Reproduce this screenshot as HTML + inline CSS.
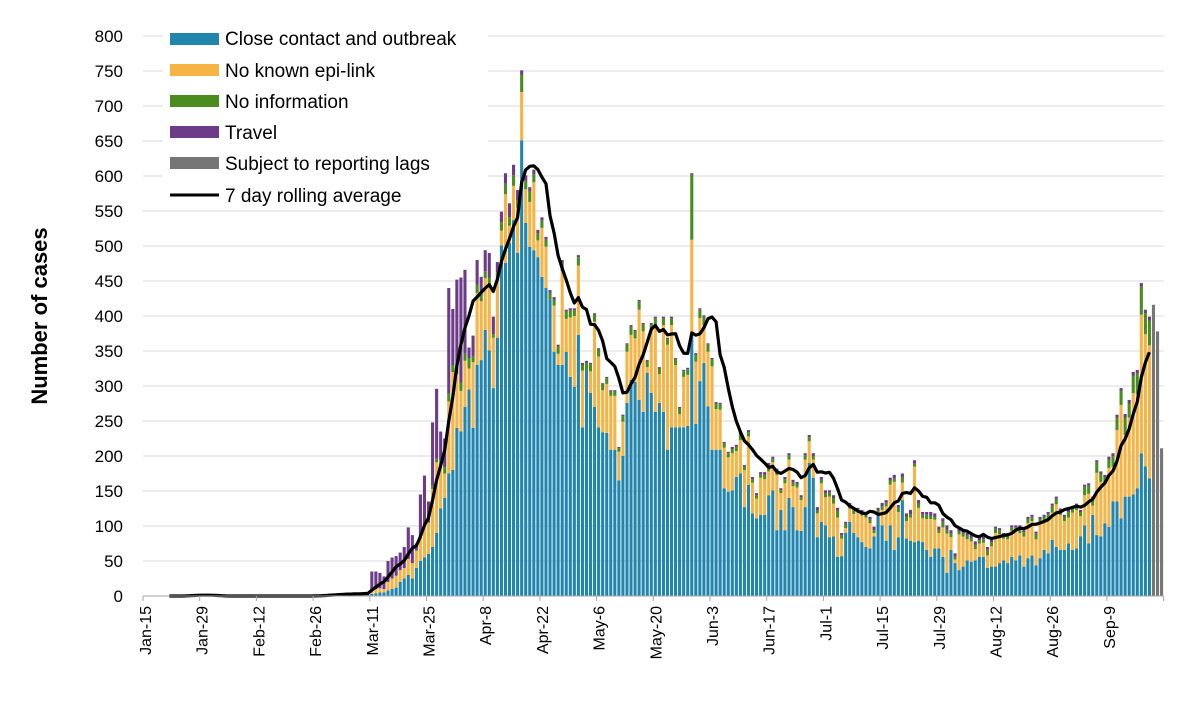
<!DOCTYPE html>
<html><head><meta charset="utf-8"><style>
html,body{margin:0;padding:0;background:#fff;}
svg{display:block;font-family:"Liberation Sans",sans-serif;}
</style></head><body>
<svg id="chart" width="1200" height="704" viewBox="0 0 1200 704" xmlns="http://www.w3.org/2000/svg">
<g id="grid"></g>
<g id="bars"></g>
<g id="line"></g>
<g id="axes"></g>
<text transform="translate(47,316) rotate(-90)" text-anchor="middle" font-size="22" font-weight="bold" fill="#000">Number of cases</text>
<g id="legend">
<rect x="163" y="26" width="325" height="184" fill="#fff"/>
<rect x="170" y="33" width="49" height="12" fill="#2185ae"/>
<text x="225" y="45" font-size="19">Close contact and outbreak</text>
<rect x="170" y="64" width="49" height="12" fill="#f6b445"/>
<text x="225" y="77" font-size="19">No known epi-link</text>
<rect x="170" y="95" width="49" height="12" fill="#4a8c1e"/>
<text x="225" y="108" font-size="19">No information</text>
<rect x="170" y="126" width="49" height="12" fill="#6d3c88"/>
<text x="225" y="139" font-size="19">Travel</text>
<rect x="170" y="157" width="49" height="12" fill="#767676"/>
<text x="225" y="170" font-size="19">Subject to reporting lags</text>
<line x1="170" y1="195" x2="219" y2="195" stroke="#000" stroke-width="3"/>
<text x="225" y="202" font-size="19">7 day rolling average</text>
</g>
</svg>
<script>
const tickValues = [0,50,100,150,200,250,300,350,400,450,500,550,600,650,700,750,800];
const dateLabels = ["Jan-15","Jan-29","Feb-12","Feb-26","Mar-11","Mar-25","Apr-8","Apr-22","May-6","May-20","Jun-3","Jun-17","Jul-1","Jul-15","Jul-29","Aug-12","Aug-26","Sep-9"];
const totalCases = [
0,0,0,0,0,0,0,0,0,0,1,2,2,2,1,0,0,0,0,0,0,0,0,0,0,0,0,0,0,0,0,0,0,0,0,0,0,0,0,0,0,0,1,1,2,2,3,2,3,3,4,3,4,3,4,5,
35,35,33,28,50,55,57,62,70,98,87,75,145,172,135,248,296,235,225,440,410,452,455,466,355,372,480,456,494,490,399,477,549,
604,561,616,580,751,601,584,609,523,541,513,433,427,359,480,409,411,411,487,333,334,333,404,354,304,313,294,294,213,259,361,387,380,423,390,337,390,399,327,399,369,399,340,270,323,326,604,347,411,401,361,340,277,276,220,206,
213,216,234,187,237,170,147,177,177,190,199,182,154,170,204,166,163,144,204,230,204,127,170,151,151,144,126,90,106,133,126,126,123,120,113,99,109,133,137,169,173,130,175,118,123,194,137,120,120,120,118,99,111,101,94,61,97,94,
90,87,78,85,85,70,80,99,97,90,90,101,101,101,94,113,116,92,113,116,120,132,142,125,116,123,128,132,123,159,161,142,194,178,173,199,204,259,297,260,280,320,323,447,409,399];
const closeContact = [
0,0,0,0,0,0,0,0,0,0,0,0,0,0,0,0,0,0,0,0,0,0,0,0,0,0,0,0,0,0,0,0,0,0,0,0,0,0,0,0,0,0,0,0,0,0,0,0,0,0,0,0,0,0,0,0,
3,4,5,5,8,10,12,20,25,30,25,40,50,55,60,70,90,125,140,175,180,240,235,270,295,240,330,337,380,351,297,369,501,
476,504,537,490,651,533,499,494,484,456,440,423,349,330,330,349,313,299,373,241,323,290,270,241,234,233,209,209,165,200,276,309,306,280,263,319,290,263,276,263,209,241,241,241,241,243,373,246,307,333,271,209,209,209,154,149,
151,170,175,127,159,118,111,116,116,144,151,94,123,94,140,127,94,93,127,190,169,84,106,101,84,85,56,57,90,106,90,84,77,70,68,85,116,101,79,101,66,84,137,82,79,77,79,77,66,56,68,68,56,33,66,47,37,42,
51,49,51,56,56,40,42,42,47,51,47,56,51,58,42,54,58,44,54,66,61,80,70,66,66,75,66,68,85,101,75,116,87,85,104,99,135,135,111,142,142,145,154,204,185,168];
const noInformation = [
0,0,0,0,0,0,0,0,0,0,0,0,0,0,0,0,0,0,0,0,0,0,0,0,0,0,0,0,0,0,0,0,0,0,0,0,0,0,0,0,0,0,0,0,0,0,0,0,0,0,0,0,0,0,0,0,
0,0,0,0,0,0,0,0,0,0,0,0,2,3,0,5,5,8,10,12,10,15,12,10,15,8,12,10,10,10,5,10,12,
15,12,15,10,25,12,15,12,10,10,10,10,8,10,12,10,10,8,12,8,10,10,10,10,8,8,6,6,5,8,10,12,10,12,10,8,10,10,8,10,8,10,8,8,8,8,93,10,12,12,10,10,8,8,6,6,
6,6,8,5,6,5,5,5,6,8,5,6,4,6,6,5,5,4,6,6,5,4,5,5,6,8,10,5,6,5,6,4,4,5,5,4,6,5,5,6,5,6,8,6,5,4,6,5,6,5,4,5,8,6,5,4,4,5,
5,5,6,5,5,8,6,6,6,5,6,5,6,8,6,6,6,8,6,6,8,10,8,6,6,8,6,6,6,12,12,10,15,12,10,12,15,18,20,25,20,25,30,40,30,35];
const travel = [
0,0,0,0,0,0,0,0,0,0,1,2,2,2,1,0,0,0,0,0,0,0,0,0,0,0,0,0,0,0,0,0,0,0,0,0,0,0,0,0,0,0,1,1,2,2,3,2,3,3,4,3,4,3,4,5,
28,25,22,18,30,30,28,25,30,45,40,10,60,70,30,90,100,40,40,150,80,120,150,120,15,30,35,25,30,35,25,15,15,
15,20,15,15,6,8,6,6,5,5,4,4,4,3,4,3,3,3,3,3,3,2,2,2,2,2,2,2,2,2,2,2,2,2,2,2,2,2,2,2,2,2,2,2,2,2,2,2,2,2,2,2,2,2,2,2,
3,3,3,2,3,3,3,3,4,4,3,3,3,3,3,4,3,3,3,3,4,5,4,5,3,4,4,3,3,3,3,3,4,3,4,5,4,5,4,4,5,4,5,5,6,5,5,4,4,5,5,4,5,6,5,5,5,4,
4,4,5,5,4,4,3,3,3,3,3,3,3,3,3,3,3,3,3,3,3,3,3,3,3,3,3,3,3,3,3,3,3,3,3,4,4,4,4,5,5,5,5,5,5,6];
const lagValues = [416,378,211];
const lagStartDay = 249;

const NS = "http://www.w3.org/2000/svg";
const X0 = 143, DW = 4.05, Y0 = 596, PPU = 0.7, NDAYS = 252, XEND = X0 + NDAYS * DW;
function xEdge(d){ return X0 + d * DW; }
function yv(v){ return Y0 - v * PPU; }
function mk(tag, attrs, parent){
  const el = document.createElementNS(NS, tag);
  for (const k in attrs) el.setAttribute(k, attrs[k]);
  parent.appendChild(el);
  return el;
}
const grid = document.getElementById('grid');
const axes = document.getElementById('axes');
const bars = document.getElementById('bars');
const lineG = document.getElementById('line');

tickValues.forEach(v => {
  if (v > 0) {
    const gl = mk('line', {x1: X0, x2: XEND, y1: yv(v), y2: yv(v), stroke: '#d9d9d9', 'stroke-width': 1}, grid);
    
    
  }
  const t = mk('text', {x: 123, y: yv(v) + 6, 'text-anchor': 'end', 'font-size': 17, fill: '#000'}, axes);
  t.textContent = v;
  
  
});

const base = mk('line', {x1: X0, x2: XEND, y1: Y0, y2: Y0, stroke: '#a6a6a6', 'stroke-width': 1}, axes);



dateLabels.forEach((lab, i) => {
  const d = i * 14;
  const tk = mk('line', {x1: xEdge(d), x2: xEdge(d), y1: Y0, y2: Y0 + 5, stroke: '#a6a6a6', 'stroke-width': 1}, axes);
  
  
  const cx = xEdge(d) + DW / 2 + 6;
  const t = mk('text', {x: 0, y: 0, transform: 'translate(' + cx + ',606) rotate(-90)', 'text-anchor': 'end', 'font-size': 16, fill: '#000'}, axes);
  t.textContent = lab;
  
  
});
const endTick = mk('line', {x1: XEND, x2: XEND, y1: Y0, y2: Y0 + 5, stroke: '#a6a6a6', 'stroke-width': 1}, axes);



const BW = 3.1;
function seg(d, lo, hi, color, name){
  if (hi <= lo) return;
  const r = mk('rect', {x: xEdge(d) + (DW - BW) / 2, y: yv(hi), width: BW, height: (hi - lo) * PPU, fill: color}, bars);
  
  
}
for (let d = 0; d < totalCases.length; d++) {
  const c = closeContact[d], inf = noInformation[d], tr = travel[d];
  const epi = Math.max(0, totalCases[d] - c - inf - tr);
  let acc = 0;
  seg(d, acc, acc + c, '#2185ae', 'bar-close-contact'); acc += c;
  seg(d, acc, acc + epi, '#f6b445', 'bar-no-epi-link'); acc += epi;
  seg(d, acc, acc + inf, '#4a8c1e', 'bar-no-information'); acc += inf;
  seg(d, acc, acc + tr, '#6d3c88', 'bar-travel');
}
lagValues.forEach((v, i) => {
  seg(lagStartDay + i, 0, v, '#767676', 'bar-reporting-lag');
});

let pts = [];
for (let d = 6; d < totalCases.length; d++) {
  let s = 0;
  for (let k = d - 6; k <= d; k++) s += totalCases[k];
  pts.push((xEdge(d) + DW / 2).toFixed(1) + ',' + yv(s / 7).toFixed(1));
}
const pl = mk('polyline', {points: pts.join(' '), fill: 'none', stroke: '#000', 'stroke-width': 3.2, 'stroke-linejoin': 'round'}, lineG);


</script>
</body></html>
